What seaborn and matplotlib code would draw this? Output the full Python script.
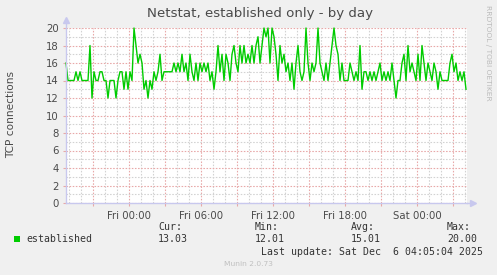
import numpy as np
import pandas as pd
import matplotlib
matplotlib.use("Agg")
import matplotlib.pyplot as plt
import matplotlib.dates as mdates
from matplotlib.ticker import MultipleLocator, FuncFormatter
import seaborn as sns

# ---------------- data ----------------
title = "Netstat, established only - by day"
y_label = "TCP connections"
series_name = "established"
start_time = "2025-12-04 18:45"
step_minutes = 10
established = [
    16, 14, 14, 14, 14, 15, 14, 15, 14, 14, 14, 14, 18, 12, 15, 14, 14, 15, 15, 14,
    14, 12, 14, 14, 14, 12, 14, 15, 15, 13, 15, 13, 15, 14, 20, 18, 16, 17, 16, 13,
    14, 12, 14, 13, 15, 14, 15, 17, 14, 15, 15, 15, 15, 15, 16, 15, 16, 15, 17, 15,
    16, 14, 17, 15, 14, 16, 14, 16, 15, 16, 15, 16, 14, 15, 13, 15, 18, 15, 17, 14,
    17, 16, 14, 17, 18, 16, 15, 18, 16, 18, 16, 17, 16, 18, 16, 18, 19, 16, 18, 20,
    19, 20, 16, 20, 19, 17, 14, 18, 16, 17, 15, 16, 14, 16, 13, 16, 18, 15, 14, 15,
    20, 16, 14, 16, 15, 16, 20, 16, 15, 14, 16, 14, 16, 18, 20, 18, 17, 14, 16, 14,
    14, 14, 16, 15, 14, 15, 14, 18, 13, 15, 15, 14, 15, 14, 15, 14, 15, 16, 14, 15,
    14, 15, 14, 16, 14, 12, 14, 14, 16, 17, 14, 18, 15, 16, 15, 14, 17, 14, 18, 16,
    14, 16, 15, 14, 16, 15, 13, 15, 14, 14, 14, 14, 16, 17, 15, 16, 14, 15, 14, 15,
    13,
]
y_ticks = list(range(0, 21, 2))
stat_labels = ["Cur:", "Min:", "Avg:", "Max:"]
stat_values = ["13.03", "12.01", "15.01", "20.00"]
last_update = "Last update: Sat Dec  6 04:05:04 2025"
footer = "Munin 2.0.73"
side_text = "RRDTOOL / TOBI OETIKER"

times = pd.date_range(start_time, periods=len(established), freq=f"{step_minutes}min")
df = pd.DataFrame({"time": times, "value": established})

# ---------------- figure ----------------
W, H = 497, 275
BG = "#F0F0F0"
TXT = "#4A4A4A"
RED = "#E8A8A8"
GREY = "#D2D2D2"
AXIS = "#C8C8EE"

fig = plt.figure(figsize=(W / 100, H / 100), dpi=100, facecolor=BG)

def fx(x):
    return x / W

def fy(y):
    return 1 - y / H

left, right, top, bottom = 66, 467, 28, 203
ax = fig.add_axes([fx(left), fy(bottom), (right - left) / W, (bottom - top) / H])
ax.set_facecolor("white")

sns.lineplot(data=df, x="time", y="value", ax=ax, color="#00CC00",
             linewidth=1.0, clip_on=False, zorder=5)

t0 = pd.Timestamp(start_time)
x_lo = mdates.date2num(t0)
x_hi = mdates.date2num(t0 + pd.Timedelta(minutes=2005))
ax.set_xlim(x_lo, x_hi)
ax.set_ylim(0, 20)

ax.yaxis.set_major_locator(MultipleLocator(2))
ax.yaxis.set_minor_locator(MultipleLocator(1))
ax.set_yticks(y_ticks)
ax.xaxis.set_major_locator(mdates.HourLocator(byhour=range(0, 24, 3)))
ax.xaxis.set_minor_locator(mdates.HourLocator())

def xfmt(v, pos):
    d = mdates.num2date(v)
    if d.hour % 6 == 0:
        return d.strftime("%a %H:%M")
    return ""

ax.xaxis.set_major_formatter(FuncFormatter(xfmt))

ax.grid(which="minor", color=GREY, linestyle=(0, (1.4, 1.4)), linewidth=0.8, zorder=1)
ax.grid(which="major", color=RED, linestyle=(0, (1.4, 1.4)), linewidth=0.8, zorder=2)
ax.set_axisbelow(True)

ax.tick_params(which="major", length=2, width=0.8, color=RED, labelsize=7.3,
               labelcolor=TXT, pad=3)
ax.tick_params(which="minor", length=0)
ax.tick_params(axis="x", which="major", pad=3.5)

for s in ["top", "right"]:
    ax.spines[s].set_visible(False)
for s in ["left", "bottom"]:
    ax.spines[s].set_color(AXIS)
    ax.spines[s].set_linewidth(1.0)
    ax.spines[s].set_zorder(6)

ax.set_xlabel("")
ax.set_ylabel("")

# axis arrows
ax.plot([0], [1.045], marker="^", color=AXIS, markersize=4.5, transform=ax.transAxes,
        clip_on=False, zorder=7)
ax.plot([0, 0], [1.0, 1.04], color=AXIS, lw=1.0, transform=ax.transAxes,
        clip_on=False, zorder=7)
ax.plot([1.0, 1.012], [0, 0], color=AXIS, lw=1.0, transform=ax.transAxes,
        clip_on=False, zorder=7)
ax.plot([1.015], [0], marker=">", color=AXIS, markersize=4.5, transform=ax.transAxes,
        clip_on=False, zorder=7)

# texts
fig.text(fx(260), fy(13), title, ha="center", va="center", fontsize=9.6, color="#4A4A4A")
fig.text(fx(11), fy(115), y_label, ha="center", va="center", rotation=90,
         fontsize=7.6, color=TXT)
fig.text(fx(488), fy(5), side_text, ha="center", va="top", rotation=270,
         fontsize=5.4, color="#BBBBBB")

mono = "DejaVu Sans Mono"
fig.patches.append(plt.Rectangle((fx(14), fy(242)), 6 / W, 6 / H, transform=fig.transFigure,
                                 facecolor="#00CC00", edgecolor="none"))
fig.text(fx(26), fy(239.5), series_name, ha="left", va="center", fontsize=7.1,
         family=mono, color="#333333")
stat_x = [158, 255, 351, 447]
for x, lab, val in zip(stat_x, stat_labels, stat_values):
    fig.text(fx(x), fy(227.5), lab, ha="left", va="center", fontsize=7.1, family=mono,
             color="#333333")
    fig.text(fx(x), fy(239.5), val, ha="left", va="center", fontsize=7.1, family=mono,
             color="#333333")
fig.text(fx(483), fy(252), last_update, ha="right", va="center", fontsize=7.1,
         family=mono, color="#333333")
fig.text(fx(248), fy(264), footer, ha="center", va="center", fontsize=5.4,
         color="#C0C0C0")

fig.savefig("out.png", dpi=100, facecolor=BG)
